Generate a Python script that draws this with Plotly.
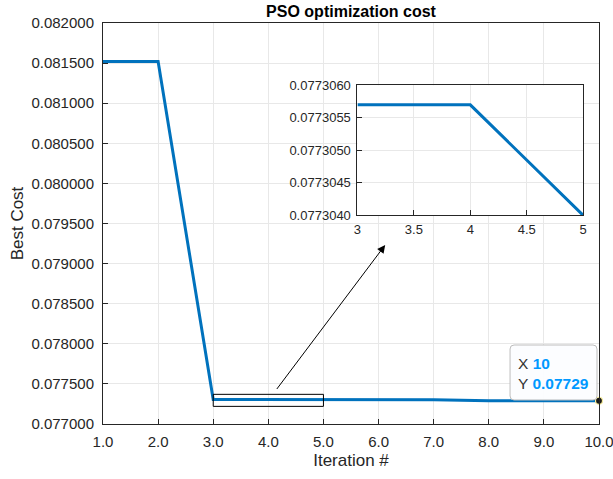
import plotly.graph_objects as go

# ---- data ----
iterations = [1, 2, 3, 4, 5, 6, 7, 8, 9, 10]
best_cost = [0.081520, 0.081520, 0.0773057, 0.0773057, 0.0773040,
             0.0773030, 0.0773030, 0.0772900, 0.0772900, 0.0772900]
x_ticks = [1, 2, 3, 4, 5, 6, 7, 8, 9, 10]
inset_xrange = [3, 5]
inset_yrange = [0.0773040, 0.0773060]
zoom_box_y = [0.07722, 0.07737]
tip_x, tip_y = 10, 0.07729

inset_x = [x for x in iterations if inset_xrange[0] <= x <= inset_xrange[1]]
inset_y = [y for x, y in zip(iterations, best_cost) if inset_xrange[0] <= x <= inset_xrange[1]]

BLUE = "#0072BD"
AX = "#262626"
GRID = "#e8e8e8"
FONT = "Liberation Sans, Arial, sans-serif"

fig = go.Figure()
fig.add_trace(go.Scatter(x=iterations, y=best_cost, mode="lines",
                         line=dict(color=BLUE, width=3), xaxis="x", yaxis="y",
                         showlegend=False, hoverinfo="skip"))
fig.add_trace(go.Scatter(x=[tip_x], y=[tip_y], mode="markers", cliponaxis=False,
                         marker=dict(color="#1a1a1a", size=7,
                                     line=dict(color="#f5eb9a", width=1.2)),
                         xaxis="x", yaxis="y", showlegend=False, hoverinfo="skip"))
fig.add_trace(go.Scatter(x=inset_x, y=inset_y, mode="lines",
                         line=dict(color=BLUE, width=3), xaxis="x2", yaxis="y2",
                         showlegend=False, hoverinfo="skip"))


def axis_common(fs, standoff):
    return dict(showline=True, linecolor=AX, linewidth=1, mirror=True,
                ticks="inside", ticklen=5, tickcolor=AX, automargin=False,
                ticklabelstandoff=standoff, ticklabeloverflow="allow",
                showgrid=True, gridcolor=GRID, gridwidth=1, zeroline=False,
                tickfont=dict(family=FONT, size=fs, color=AX))


fig.update_layout(
    width=613, height=479,
    margin=dict(l=103, r=14, t=23, b=55),
    paper_bgcolor="white", plot_bgcolor="white",
    title=dict(text="<b>PSO optimization cost</b>", x=0.5, xref="paper",
               y=1 - 11 / 479, yanchor="middle", xanchor="center",
               font=dict(family=FONT, size=16, color="black")),
    xaxis=dict(domain=[0, 1], range=[1, 10], tickvals=x_ticks, tickformat=".1f",
               title=dict(text="Iteration #", standoff=5,
                          font=dict(family=FONT, size=17, color=AX)),
               **axis_common(15, 4)),
    yaxis=dict(domain=[0, 1], range=[0.077, 0.082], dtick=0.0005, tick0=0.077,
               tickformat=".6f",
               title=dict(text="Best Cost", standoff=3,
                          font=dict(family=FONT, size=17, color=AX)),
               **axis_common(15, 5)),
    xaxis2=dict(domain=[0.513, 0.968], range=inset_xrange, dtick=0.5, tick0=3,
                anchor="y2", **axis_common(13, 2)),
    yaxis2=dict(domain=[0.5204, 0.8446], range=inset_yrange, dtick=0.0000005,
                tick0=0.077304, tickformat=".7f", anchor="x2", **axis_common(13, 3)),
)

# zoom rectangle on main axes
fig.add_shape(type="rect", xref="x", yref="y", x0=inset_xrange[0], x1=inset_xrange[1],
              y0=zoom_box_y[0], y1=zoom_box_y[1], line=dict(color="black", width=1))

# arrow
fig.add_annotation(x=6.12, y=0.079232, ax=4.134, ay=0.077418, xref="x", yref="y",
                   axref="x", ayref="y", showarrow=True, arrowhead=2, arrowsize=1.6,
                   arrowwidth=1, arrowcolor="black", text="")

# datatip box (rounded)
W, H = 496.3, 401.0
x0, x1 = (510 - 102.7) / W, (597 - 102.7) / W
y1, y0 = (424 - 345) / H, (424 - 400) / H
rx, ry = 4 / W, 4 / H
path = (f"M {x0+rx},{y0} L {x1-rx},{y0} Q {x1},{y0} {x1},{y0+ry} "
        f"L {x1},{y1-ry} Q {x1},{y1} {x1-rx},{y1} L {x0+rx},{y1} "
        f"Q {x0},{y1} {x0},{y1-ry} L {x0},{y0+ry} Q {x0},{y0} {x0+rx},{y0} Z")
fig.add_shape(type="path", xref="paper", yref="paper", path=path,
              fillcolor="rgba(252,253,255,0.95)", line=dict(color="#bdbdbd", width=1),
              layer="above")
TIPBLUE = "#0099ff"
fig.add_annotation(xref="paper", yref="paper", x=(516 - 102.7) / W, y=(424 - 363) / H,
                   xanchor="left", yanchor="middle", showarrow=False,
                   text=f"X <span style='color:{TIPBLUE}'><b>{tip_x}</b></span>",
                   font=dict(family=FONT, size=15.5, color="#333333"))
fig.add_annotation(xref="paper", yref="paper", x=(516 - 102.7) / W, y=(424 - 383) / H,
                   xanchor="left", yanchor="middle", showarrow=False,
                   text=f"Y <span style='color:{TIPBLUE}'><b>{tip_y:.5f}</b></span>",
                   font=dict(family=FONT, size=15.5, color="#333333"))

fig.write_html("out.html")
